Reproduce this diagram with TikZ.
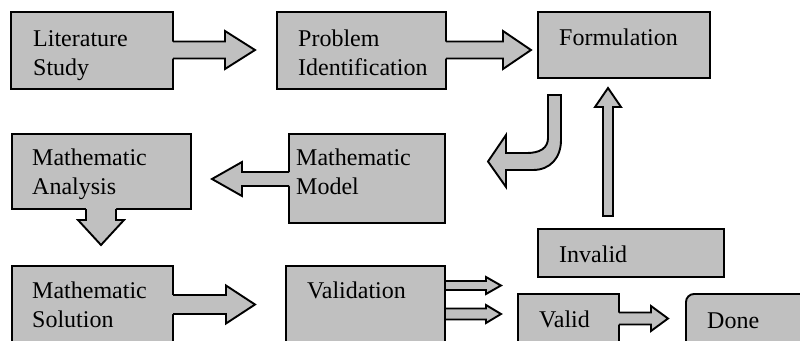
\documentclass[tikz,border=0pt]{standalone}
\usepackage{fontspec}
\setmainfont{Liberation Serif}
\usetikzlibrary{calc}
\definecolor{boxgray}{RGB}{192,192,192}
\tikzset{
  x=1pt, y=-1pt,
  box/.style={draw=black, fill=boxgray, line width=1.9pt, anchor=north west,
    inner sep=0pt, outer sep=0pt},
  lbl/.style={anchor=base west, inner sep=0pt, align=left,
    font=\fontsize{24}{29}\selectfont},
  arrowfill/.style={fill=boxgray},
  arrowline/.style={draw=black, line width=1.9pt, line join=miter},
  % block arrow leaving a box: the tail is open and overlaps the box border
  pics/blockarrow/.style n args={4}{code={
    \fill[arrowfill] (-2,-#2) -- (#1-#4,-#2) -- (#1-#4,-#3) -- (#1,0)
      -- (#1-#4,#3) -- (#1-#4,#2) -- (-2,#2) -- cycle;
    \draw[arrowline] (0,-#2) -- (#1-#4,-#2) -- (#1-#4,-#3) -- (#1,0)
      -- (#1-#4,#3) -- (#1-#4,#2) -- (0,#2);
  }},
  % free-standing block arrow with a closed tail
  pics/solidarrow/.style n args={4}{code={
    \draw[arrowline, arrowfill] (0,-#2) -- (#1-#4,-#2) -- (#1-#4,-#3) -- (#1,0)
      -- (#1-#4,#3) -- (#1-#4,#2) -- (0,#2) -- cycle;
  }},
}
\begin{document}
\begin{tikzpicture}
\useasboundingbox (0,0) rectangle (800,340);
\clip (0,0) rectangle (800,340);

% boxes
\node[box, minimum width=162pt, minimum height=77pt] (lit)   at (11,12)  {};
\node[box, minimum width=169pt, minimum height=77pt] (prob)  at (277,12) {};
\node[box, minimum width=172pt, minimum height=66pt] (form)  at (538,12) {};
\node[box, minimum width=179pt, minimum height=75pt] (ana)   at (12,134) {};
\node[box, minimum width=156pt, minimum height=89pt] (model) at (289,134) {};
\node[box, minimum width=161pt, minimum height=90pt] (sol)   at (12,266) {};
\node[box, minimum width=159pt, minimum height=90pt] (val)   at (286,266) {};
\node[box, minimum width=186pt, minimum height=48pt] (inv)   at (538,229) {};
\node[box, minimum width=101pt, minimum height=60pt] (valid) at (518,294) {};
\node[box, minimum width=130pt, minimum height=60pt, rounded corners=8pt] (done) at (686,294) {};

% labels (base anchor sits on the last line's baseline)
\node[lbl] (litT)   at (33,75)   {Literature\\Study};
\node[lbl] (probT)  at (298,75)  {Problem\\Identification};
\node[lbl] (formT)  at (559,45)  {Formulation};
\node[lbl] (anaT)   at (32,194)  {Mathematic\\Analysis};
\node[lbl] (modelT) at (296,194) {Mathematic\\Model};
\node[lbl] (solT)   at (32,327)  {Mathematic\\Solution};
\node[lbl] (valT)   at (307,298) {Validation};
\node[lbl] (invT)   at (559,262) {Invalid};
\node[lbl] (validT) at (539,327) {Valid};
\node[lbl] (doneT)  at (707,328) {Done};

% connectors between boxes
\pic at ($(lit.north east)+(0,38)$)   {blockarrow={82}{8.5}{19}{30}};
\pic at ($(prob.north east)+(0,38)$)  {blockarrow={85}{8.5}{19}{28}};
\pic[rotate=180] at ($(model.north west)+(0,45)$) {blockarrow={77}{7}{17}{30}};
\pic[rotate=-90] at ($(ana.south west)+(89,0)$)   {blockarrow={36}{15}{23}{25}};
\pic at ($(sol.north east)+(0,38.5)$) {blockarrow={82}{9.5}{19}{29}};
\pic at ($(val.north east)+(0,19.5)$) {solidarrow={56}{4.5}{8.5}{15}};
\pic at ($(val.north east)+(0,48)$)   {solidarrow={56}{5.5}{9}{15}};
\pic at ($(valid.north east)+(0,24.5)$) {blockarrow={49}{6}{12.5}{17}};

% return arrow from Invalid up to Formulation
\coordinate (upTail) at (608,216);
\pic[rotate=90] at (upTail) {solidarrow={128}{5}{13}{19}};

% bent arrow from Formulation down and round to Mathematic Model
\draw[arrowline, arrowfill]
  (548,95) -- (561,95) -- (561,140)
  .. controls (561,158) and (550,170) .. (533,170)
  -- (506,170) -- (506,187) -- (488,161.5) -- (506,135) -- (506,153)
  -- (527,153) .. controls (540,153) and (548,148) .. (548,138) -- cycle;
\end{tikzpicture}
\end{document}
